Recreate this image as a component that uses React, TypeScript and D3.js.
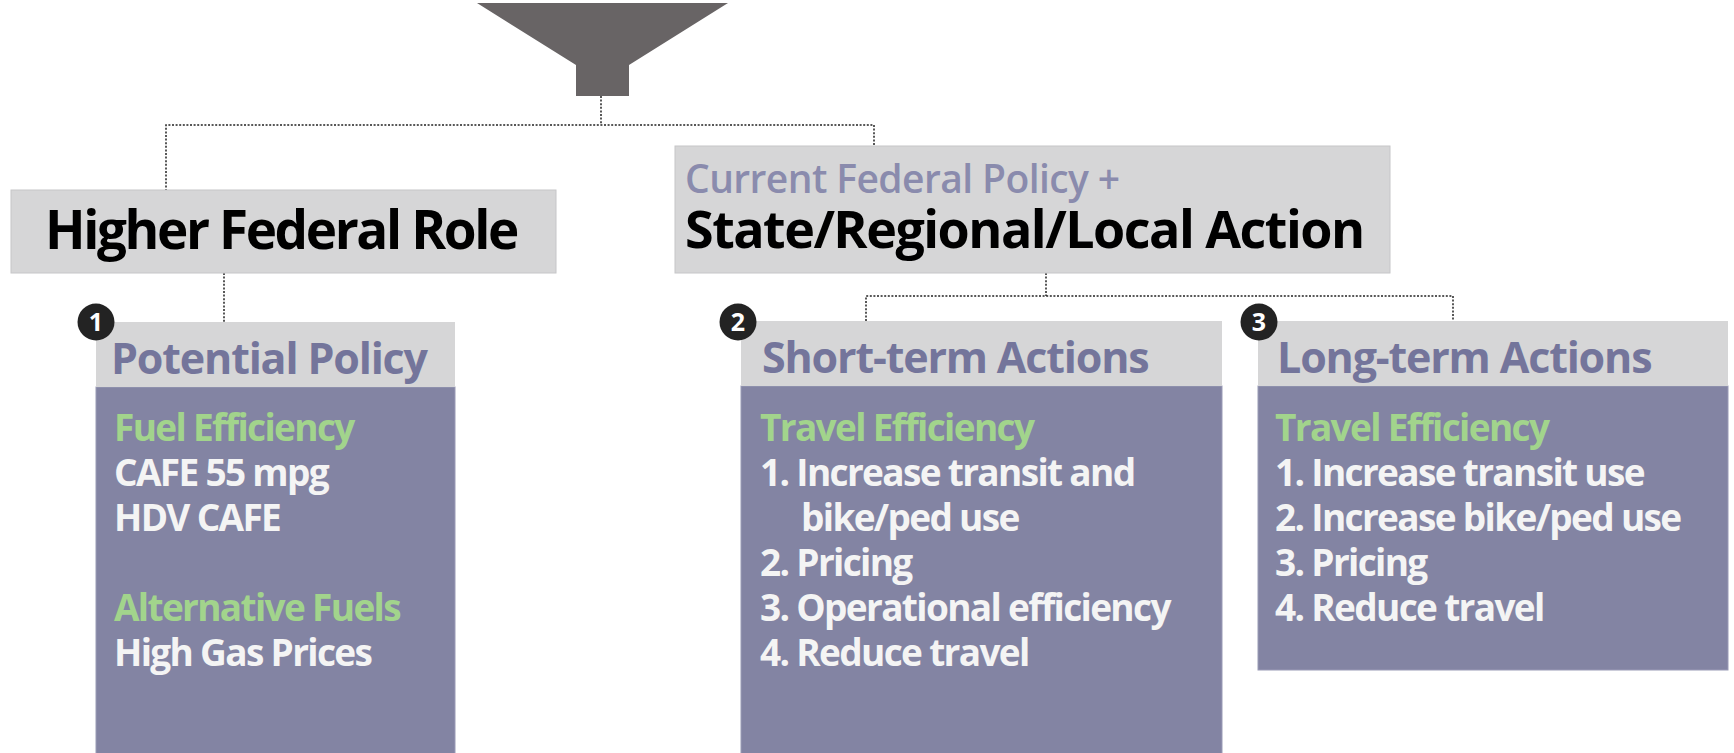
import React from "react";
import * as d3 from "d3";

// ---- content ----
const topLeftTitle = ["Higher Federal Role"];
const topRightTitle = ["Current Federal Policy +", "State/Regional/Local Action"];
const cardNumbers = ["1", "2", "3"];
const cardHeaders = ["Potential Policy", "Short-term Actions", "Long-term Actions"];
const card1Lines = [
  { text: "Fuel Efficiency", kind: "head" },
  { text: "CAFE 55 mpg", kind: "item" },
  { text: "HDV CAFE", kind: "item" },
  { text: "", kind: "gap" },
  { text: "Alternative Fuels", kind: "head" },
  { text: "High Gas Prices", kind: "item" },
];
const card2Lines = [
  { text: "Travel Efficiency", kind: "head" },
  { text: "1. Increase transit and", kind: "item" },
  { text: "bike/ped use", kind: "indent" },
  { text: "2. Pricing", kind: "item" },
  { text: "3. Operational efficiency", kind: "item" },
  { text: "4. Reduce travel", kind: "item" },
];
const card3Lines = [
  { text: "Travel Efficiency", kind: "head" },
  { text: "1. Increase transit use", kind: "item" },
  { text: "2. Increase bike/ped use", kind: "item" },
  { text: "3. Pricing", kind: "item" },
  { text: "4. Reduce travel", kind: "item" },
];

// ---- layout ----
const W = 1734, H = 753;
const FONT = "'Open Sans', 'Noto Sans', sans-serif";
const C = {
  funnel: "#686465",
  gray: "#d6d6d7",
  grayStroke: "#c6c6c8",
  purple: "#8384a3",
  headerText: "#74759b",
  subText: "#8a8bad",
  green: "#a2d48c",
  white: "#f4f4f4",
  badge: "#232323",
  line: "#222",
};

const cards = [
  { x: 96, y: 322, w: 359, hh: 65, bottom: 760, lines: card1Lines, tx: 114, hx: 111 },
  { x: 741, y: 321, w: 481, hh: 65, bottom: 760, lines: card2Lines, tx: 760, hx: 762 },
  { x: 1258, y: 321, w: 470, hh: 65, bottom: 670, lines: card3Lines, tx: 1275, hx: 1277 },
];

function CText({ x, y, size, fill, children, weight = 700, ls = "-0.045em" }: any) {
  return (
    <text
      x={x}
      y={y}
      fontFamily={FONT}
      fontSize={size}
      fontWeight={weight}
      letterSpacing={ls}
      fill={fill}
    >
      {children}
    </text>
  );
}

export default function App() {
  const funnel = d3.path();
  funnel.moveTo(477, 3);
  funnel.lineTo(728, 3);
  funnel.lineTo(629, 65);
  funnel.lineTo(629, 96);
  funnel.lineTo(576, 96);
  funnel.lineTo(576, 65);
  funnel.closePath();

  const conn = d3.path();
  conn.moveTo(601, 96); conn.lineTo(601, 125);
  conn.moveTo(166, 191); conn.lineTo(166, 125); conn.lineTo(874, 125); conn.lineTo(874, 146);
  conn.moveTo(224, 273); conn.lineTo(224, 322);
  conn.moveTo(1046, 273); conn.lineTo(1046, 296);
  conn.moveTo(866, 321); conn.lineTo(866, 296); conn.lineTo(1453, 296); conn.lineTo(1453, 321);

  const lineY = d3.scaleLinear().domain([0, 1]).range([441, 486]);

  return (
    <svg width={W} height={H} style={{ position: "absolute", left: 0, top: 0, background: "#fff" }}>
      <path d={funnel.toString()} fill={C.funnel} />
      <path d={conn.toString()} fill="none" stroke={C.line} strokeWidth={1.5} strokeDasharray="2,1.6" />

      <rect x={11} y={190} width={545} height={83} fill={C.gray} stroke={C.grayStroke} strokeWidth={1} />
      <CText x={45} y={249} size={53} fill="#000">{topLeftTitle[0]}</CText>

      <rect x={675} y={146} width={715} height={127} fill={C.gray} stroke={C.grayStroke} strokeWidth={1} />
      <CText x={685} y={193} size={39} fill={C.subText} weight={600} ls="-0.015em">{topRightTitle[0]}</CText>
      <CText x={685} y={248} size={52} fill="#000" ls="-0.029em">{topRightTitle[1]}</CText>

      {cards.map((c, i) => (
        <g key={i}>
          <rect x={c.x} y={c.y + c.hh} width={c.w} height={c.bottom - c.y - c.hh} fill={C.purple} stroke="#9a9bb6" strokeWidth={1} />
          <rect x={c.x} y={c.y} width={c.w} height={c.hh} fill={C.gray} />
          <CText x={c.hx} y={c.y + 52} size={43} fill={C.headerText} ls="-0.027em">{cardHeaders[i]}</CText>
          {c.lines.map((l, j) =>
            l.kind === "gap" ? null : (
              <CText
                key={j}
                x={l.kind === "indent" ? c.tx + 41 : c.tx}
                y={lineY(j)}
                size={37}
                fill={l.kind === "head" ? C.green : C.white}
              >
                {l.text}
              </CText>
            )
          )}
          <circle cx={c.x + (i === 0 ? 0 : -3) + (i === 2 ? 4 : 0)} cy={322} r={18.5} fill={C.badge} />
          <text
            x={c.x + (i === 0 ? 0 : -3) + (i === 2 ? 4 : 0)}
            y={331}
            textAnchor="middle"
            fontFamily={FONT}
            fontWeight={700}
            fontSize={25}
            fill="#fff"
          >
            {cardNumbers[i]}
          </text>
        </g>
      ))}
    </svg>
  );
}
